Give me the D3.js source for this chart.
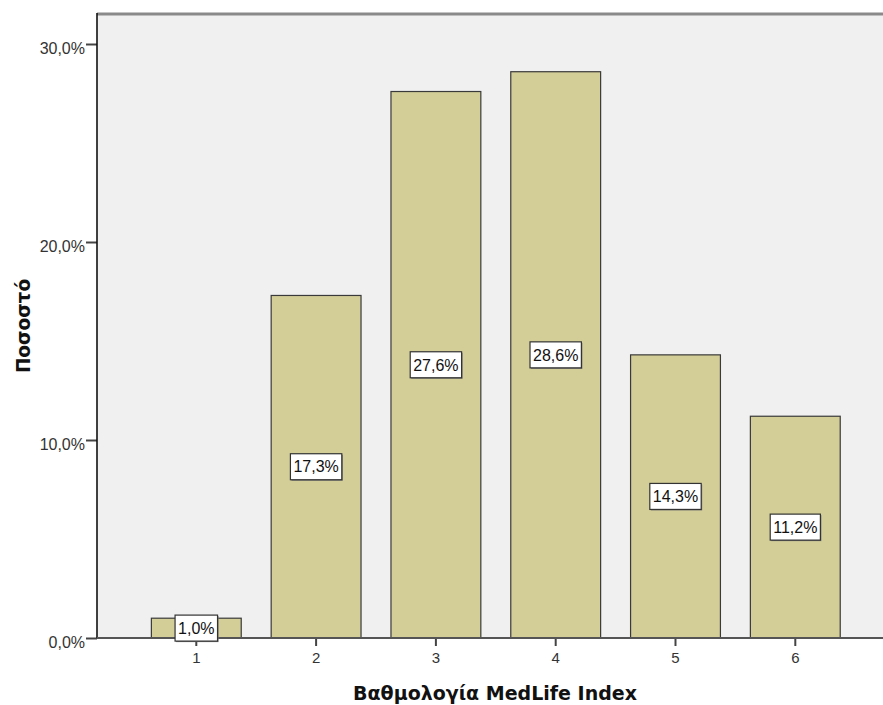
<!DOCTYPE html>
<html>
<head>
<meta charset="utf-8">
<script src="https://cdn.jsdelivr.net/npm/d3@7"></script>
<style>
  html, body { margin: 0; padding: 0; background: #ffffff; }
  svg { display: block; font-family: "Liberation Sans", Arial, sans-serif; }
</style>
</head>
<body>
<svg id="chart" width="883" height="705"></svg>
<script>
// MedLife Index score distribution (percent of respondents)
const categories = ["1", "2", "3", "4", "5", "6"];
const percents = [1.0, 17.3, 27.6, 28.6, 14.3, 11.2];
const yTicks = [0, 10, 20, 30];
const xTitle = "Βαθμολογία MedLife Index";
const yTitle = "Ποσοστό";

const fmt = v => v.toFixed(1).replace(".", ",") + "%";

const svg = d3.select("#chart");
const plot = { left: 97, right: 883, top: 14, bottom: 638 };

const x = d3.scaleBand()
  .domain(categories)
  .range([136.4, 855.2])
  .paddingInner(0.25)
  .paddingOuter(0.125);

const y = d3.scaleLinear()
  .domain([0, 30])
  .range([638, 44]);

// plot background
svg.append("rect")
  .attr("x", plot.left).attr("y", plot.top)
  .attr("width", plot.right - plot.left)
  .attr("height", plot.bottom - plot.top)
  .attr("fill", "#f0f0f0");

// top frame line
svg.append("line")
  .attr("x1", plot.left).attr("x2", plot.right)
  .attr("y1", plot.top).attr("y2", plot.top)
  .attr("stroke", "#8a8a8a").attr("stroke-width", 3);

// bars
const data = categories.map((c, i) => ({ c, v: percents[i] }));
svg.append("g").selectAll("rect")
  .data(data).join("rect")
  .attr("x", d => x(d.c))
  .attr("y", d => y(d.v))
  .attr("width", x.bandwidth())
  .attr("height", d => y(0) - y(d.v))
  .attr("fill", "#d3ce97")
  .attr("stroke", "#3a3a3a")
  .attr("stroke-width", 1.2);

// y axis
const yAxis = svg.append("g")
  .attr("transform", `translate(${plot.left},0)`)
  .call(d3.axisLeft(y).tickValues(yTicks).tickFormat(d => fmt(d)).tickSize(11).tickSizeOuter(0).tickPadding(1));
yAxis.select(".domain").remove();
yAxis.selectAll(".tick line").attr("stroke", "#444").attr("stroke-width", 2);
yAxis.selectAll(".tick text")
  .attr("font-size", 16).attr("fill", "#333")
  .attr("dy", "0.62em");
svg.append("line")
  .attr("x1", plot.left).attr("x2", plot.left)
  .attr("y1", plot.top - 1).attr("y2", plot.bottom)
  .attr("stroke", "#111").attr("stroke-width", 1.6);

// x axis
const xAxis = svg.append("g")
  .attr("transform", `translate(0,${plot.bottom})`)
  .call(d3.axisBottom(x).tickSize(8).tickSizeOuter(0).tickPadding(6));
xAxis.select(".domain").remove();
xAxis.selectAll(".tick line").attr("stroke", "#444").attr("stroke-width", 2);
xAxis.selectAll(".tick text").attr("font-size", 15).attr("fill", "#333");
svg.append("line")
  .attr("x1", plot.left).attr("x2", plot.right)
  .attr("y1", plot.bottom).attr("y2", plot.bottom)
  .attr("stroke", "#555").attr("stroke-width", 1.8);

// value labels in framed boxes at half bar height
const lab = svg.append("g").selectAll("g")
  .data(data).join("g")
  .attr("transform", d => `translate(${x(d.c) + x.bandwidth() / 2},${y(d.v / 2)})`);
lab.append("text")
  .attr("text-anchor", "middle")
  .attr("dy", "0.36em")
  .attr("font-size", 16)
  .attr("fill", "#111")
  .text(d => fmt(d.v));
lab.each(function () {
  const g = d3.select(this);
  const bb = g.select("text").node().getBBox();
  const w = bb.width + 6, h = 26;
  g.insert("rect", "text")
    .attr("x", -w / 2 + 1).attr("y", -h / 2 + 1)
    .attr("width", w).attr("height", h)
    .attr("fill", "#777");
  g.insert("rect", "text")
    .attr("x", -w / 2).attr("y", -h / 2)
    .attr("width", w).attr("height", h)
    .attr("fill", "#ffffff")
    .attr("stroke", "#333").attr("stroke-width", 1.2);
});

// axis titles
const titleFont = "'DejaVu Sans', Verdana, sans-serif";
svg.append("text")
  .attr("x", 495).attr("y", 700)
  .attr("text-anchor", "middle")
  .attr("font-family", titleFont)
  .attr("font-size", 19).attr("font-weight", "bold").attr("fill", "#111")
  .text(xTitle);
svg.append("text")
  .attr("transform", "translate(30,326) rotate(-90)")
  .attr("text-anchor", "middle")
  .attr("font-family", titleFont)
  .attr("font-size", 18.5).attr("font-weight", "bold").attr("fill", "#111")
  .text(yTitle);
</script>
</body>
</html>
